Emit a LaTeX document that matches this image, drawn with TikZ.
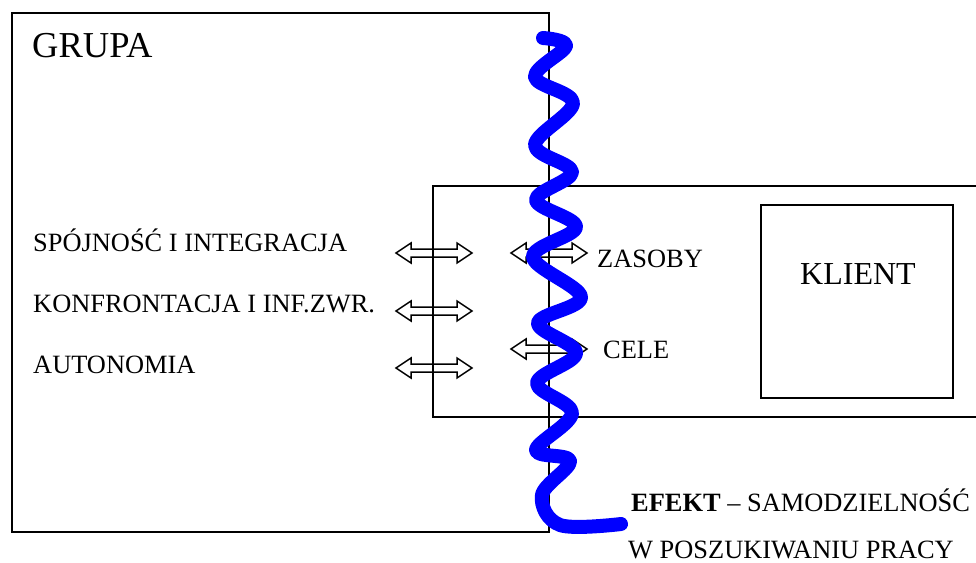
\documentclass[tikz,border=0pt]{standalone}
\usepackage{fontspec}
\setmainfont{Liberation Serif}
\begin{document}
\begin{tikzpicture}[x=1pt,y=-1pt,
  boxline/.style={draw=black,line width=1.4pt},
  lbl/.style={anchor=base west,inner sep=0pt,font=\fontsize{26.4}{28}\selectfont},
  big/.style={anchor=base west,inner sep=0pt,font=\fontsize{36.5}{40}\selectfont},
  klt/.style={anchor=base west,inner sep=0pt,font=\fontsize{32}{36}\selectfont},
  darr/.style={draw=black,line width=1.5pt,line join=miter},
  wave/.style={draw={rgb,255:red,0;green,0;blue,255},line width=14pt,line cap=round,line join=round}]
\useasboundingbox[fill=white] (0,0) rectangle (976,562);
\newcommand\dblarr[2]{%
  \draw[darr] (#1-38,#2) -- (#1-23,#2-10) -- (#1-23,#2-4) -- (#1+23,#2-4) -- (#1+23,#2-10) -- (#1+38,#2)
    -- (#1+23,#2+10) -- (#1+23,#2+4) -- (#1-23,#2+4) -- (#1-23,#2+10) -- cycle;}
% boxes
\draw[boxline] (12,13) rectangle (549,532);
\draw[boxline] (980,186) -- (433,186) -- (433,417) -- (980,417);
\draw[boxline] (761,205) rectangle (953,398);
% double arrows
\dblarr{434}{253}
\dblarr{434}{311}
\dblarr{434}{368}
\dblarr{549}{253}
\dblarr{549}{349}
% texts
\node[big] (grupa) at (32,57) {GRUPA};
\node[lbl] (spoj) at (33,251) {SPÓJNOŚĆ I INTEGRACJA};
\node[lbl] (konf) at (33,312) {KONFRONTACJA I INF.ZWR.};
\node[lbl] (auto) at (33,373) {AUTONOMIA};
\node[lbl] (zas) at (597,267) {ZASOBY};
\node[lbl] (cele) at (603,358) {CELE};
\node[klt] (klient) at (800,284) {KLIENT};
\node[lbl] (efekt) at (631,511) {\textbf{EFEKT} – SAMODZIELNOŚĆ};
\node[lbl] (wposz) at (628,558) {W POSZUKIWANIU PRACY};
% blue wave
\draw[wave] plot[smooth,tension=0.6] coordinates {
  (543,38) (566,46) (535,77) (573,103) (535,145) (572,172) (536,200)
  (576,227) (533,257) (581,297) (538,323) (576,353) (537,383) (572,413)
  (536,450) (570,461) (542,495) (560,525) (621,524)};
\end{tikzpicture}
\end{document}
